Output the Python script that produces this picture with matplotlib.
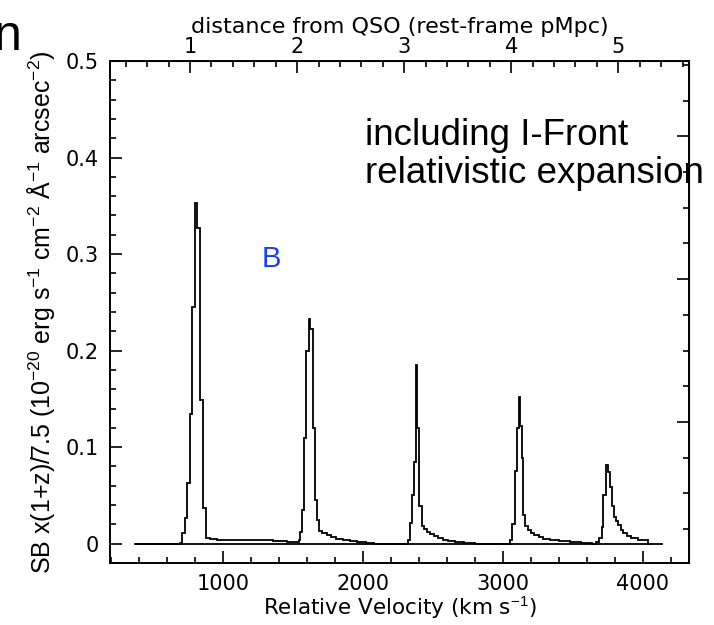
import matplotlib
matplotlib.use("Agg")
import matplotlib.pyplot as plt
from matplotlib.ticker import MultipleLocator, NullFormatter

plt.rcParams["mathtext.fontset"] = "custom"
plt.rcParams["mathtext.rm"] = "Liberation Sans"
plt.rcParams["mathtext.it"] = "Liberation Sans:italic"
plt.rcParams["mathtext.bf"] = "Liberation Sans:bold"

# step edges (km/s) and surface brightness of each step
step_v = [370, 690, 705, 729, 745, 764, 777, 802, 812, 835, 855, 879, 910, 960,
          1060, 1160, 1260, 1360, 1460, 1540,
          1550, 1566, 1582, 1597, 1612, 1624, 1640, 1656, 1672, 1688, 1710, 1740,
          1770, 1810, 1860, 1910, 1960, 2020, 2080,
          2320, 2337, 2350, 2362, 2376, 2388, 2404, 2420, 2440, 2460, 2480, 2505,
          2535, 2570, 2610, 2660, 2720, 2800,
          3050, 3068, 3085, 3098, 3112, 3122, 3134, 3145, 3160, 3180, 3200, 3225,
          3255, 3290, 3340, 3400, 3480, 3560, 3640,
          3669, 3688, 3705, 3717, 3736, 3750, 3764, 3777, 3793, 3807, 3824, 3841,
          3859, 3884, 3919, 3967, 4038, 4060]
step_sb = [0.0, 0.001, 0.011, 0.027, 0.063, 0.134, 0.245, 0.353, 0.327, 0.149, 0.037, 0.006, 0.005,
           0.004, 0.0035, 0.004, 0.004, 0.003, 0.002, 0.004,
           0.012, 0.035, 0.110, 0.200, 0.233, 0.222, 0.120, 0.045, 0.025, 0.013, 0.011, 0.009,
           0.007, 0.005, 0.004, 0.003, 0.002, 0.001, 0.0,
           0.004, 0.021, 0.050, 0.085, 0.185, 0.120, 0.039, 0.018, 0.015, 0.012, 0.010, 0.008,
           0.006, 0.004, 0.003, 0.002, 0.001, 0.0,
           0.004, 0.020, 0.075, 0.120, 0.152, 0.122, 0.089, 0.030, 0.018, 0.014, 0.011, 0.009,
           0.007, 0.005, 0.004, 0.003, 0.002, 0.001, 0.0,
           0.002, 0.006, 0.017, 0.050, 0.082, 0.074, 0.059, 0.039, 0.028, 0.023, 0.019, 0.0145,
           0.011, 0.008, 0.006, 0.0035, 0.0]

baseline_v = [370, 4140]
baseline_sb = [0.0, 0.0]

km_per_pmpc = 765.0

W, H = 714, 625
fig = plt.figure(figsize=(W / 100, H / 100), dpi=100)
ax = fig.add_axes([110 / W, 1 - 563 / H, (689 - 110) / W, (563 - 61) / H])

ax.stairs(step_sb, step_v, color="black", lw=1.3, baseline=None)
ax.plot(baseline_v, baseline_sb, color="black", lw=1.3)

ax.set_xlim(193, 4330)
ax.set_ylim(-0.02, 0.5)

tick_font = dict(family="DejaVu Sans", size=15)
ax.xaxis.set_minor_locator(MultipleLocator(200))
ax.yaxis.set_minor_locator(MultipleLocator(0.02))
ax.set_yticks([0, 0.1, 0.2, 0.3, 0.4, 0.5])
ax.set_yticklabels(["0", "0.1", "0.2", "0.3", "0.4", "0.5"], **tick_font)
ax.set_xticks([1000, 2000, 3000, 4000])
ax.set_xticklabels(["1000", "2000", "3000", "4000"], **tick_font)
ax.tick_params(which="both", direction="in", width=1.2)
ax.tick_params(which="major", length=8.5, pad=8)
ax.tick_params(which="minor", length=4.3)
for s in ax.spines.values():
    s.set_linewidth(1.4)

ax.set_xlabel("Relative Velocity (km s$^{-1}$)", fontfamily="DejaVu Sans", fontsize=15.5, labelpad=0)
ax.set_ylabel("SB x(1+z)/7.5 (10$^{-20}$ erg s$^{-1}$ cm$^{-2}$ $\\mathrm{\\AA}^{-1}$ arcsec$^{-2}$)",
              fontfamily="Liberation Sans", fontsize=18, labelpad=6)

top = ax.secondary_xaxis("top", functions=(lambda v: v / km_per_pmpc, lambda d: d * km_per_pmpc))
top.xaxis.set_minor_locator(MultipleLocator(0.2))
top.set_xticks([1, 2, 3, 4, 5])
top.set_xticklabels(["1", "2", "3", "4", "5"], **tick_font)
top.tick_params(which="both", direction="in", width=1.2)
top.tick_params(which="major", length=8.5, pad=3)
top.tick_params(which="minor", length=4.3)
top.set_xlabel("distance from QSO (rest-frame pMpc)", fontfamily="DejaVu Sans", fontsize=16, labelpad=3)

right = ax.secondary_yaxis("right", functions=(lambda y: (y - 0.126) / 0.148, lambda r: r * 0.148 + 0.126))
right.yaxis.set_major_locator(MultipleLocator(1))
right.yaxis.set_minor_locator(MultipleLocator(0.25))
right.yaxis.set_major_formatter(NullFormatter())
right.tick_params(which="both", direction="in", width=1.2)
right.tick_params(which="major", length=8.5)
right.tick_params(which="minor", length=4.3)

ax.text(0.44, 0.374, "including I-Front\nrelativistic expansion", transform=ax.get_yaxis_transform(),
        fontfamily="Liberation Sans", fontsize=26.5, va="baseline", ha="left", linespacing=1.1)
ax.text(1279, 0.287, "B", color="#1a3cff", fontfamily="Liberation Sans", fontsize=21, va="baseline")

fig.text(22 / W, 1 - 50 / H, "n", fontfamily="Liberation Sans", fontsize=36, ha="right", va="baseline")

fig.savefig("out.png", dpi=100)
